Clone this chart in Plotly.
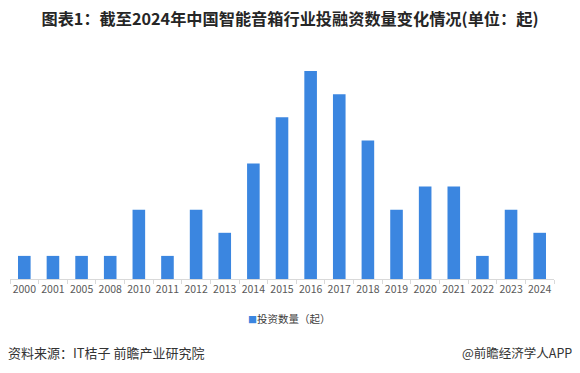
import plotly.graph_objects as go

years = ["2000", "2001", "2005", "2008", "2010", "2011", "2012", "2013", "2014", "2015",
         "2016", "2017", "2018", "2019", "2020", "2021", "2022", "2023", "2024"]
counts = [1, 1, 1, 1, 3, 1, 3, 2, 5, 7, 9, 8, 6, 3, 4, 4, 1, 3, 2]
series_name = "投资数量（起）"
title_text = "图表1：截至2024年中国智能音箱行业投融资数量变化情况(单位：起)"
source_text = "资料来源：IT桔子 前瞻产业研究院"
brand_text = "@前瞻经济学人APP"

FONT = "Noto Sans CJK SC"
BAR = "#3b86e0"

fig = go.Figure()
fig.add_trace(go.Bar(
    x=years, y=counts, name=series_name,
    marker=dict(color=BAR, line=dict(width=0)),
    showlegend=False,
))

fig.update_layout(
    width=580, height=373,
    margin=dict(l=10, r=26, t=48, b=94, autoexpand=False),
    paper_bgcolor="white", plot_bgcolor="white",
    bargap=0.56,
    font=dict(family=FONT, color="#595959", size=10),
    title=dict(text="<b>" + title_text + "</b>", x=0.5, xanchor="center",
               y=1 - 19 / 373, yanchor="middle",
               font=dict(family=FONT, size=16.2, color="#262626")),
    xaxis=dict(type="category", showline=True, linecolor="#d9d9d9", linewidth=1,
               ticks="outside", tickson="boundaries", ticklen=4, tickcolor="#d9d9d9",
               tickangle=0, automargin=False,
               tickfont=dict(size=10.5, color="#595959"), showgrid=False),
    yaxis=dict(range=[0, 10], visible=False, showgrid=False, zeroline=False,
               automargin=False),
    showlegend=False,
    annotations=[
        dict(text="<span style='color:%s;font-size:9px'>■</span>%s" % (BAR, series_name),
             xref="paper", yref="paper", x=0.513, y=-0.169,
             xanchor="center", yanchor="middle", showarrow=False,
             font=dict(family=FONT, size=10.5, color="#404040")),
        dict(text=source_text, xref="paper", yref="paper", x=-0.007, y=-0.318,
             xanchor="left", yanchor="middle", showarrow=False,
             font=dict(family=FONT, size=13, color="#333333")),
        dict(text=brand_text, xref="paper", yref="paper", x=1.037, y=-0.318,
             xanchor="right", yanchor="middle", showarrow=False,
             font=dict(family=FONT, size=12.5, color="#333333")),
    ],
)

fig.write_html("out.html", config={"displayModeBar": False},
               post_script="document.body.style.margin='0';")
